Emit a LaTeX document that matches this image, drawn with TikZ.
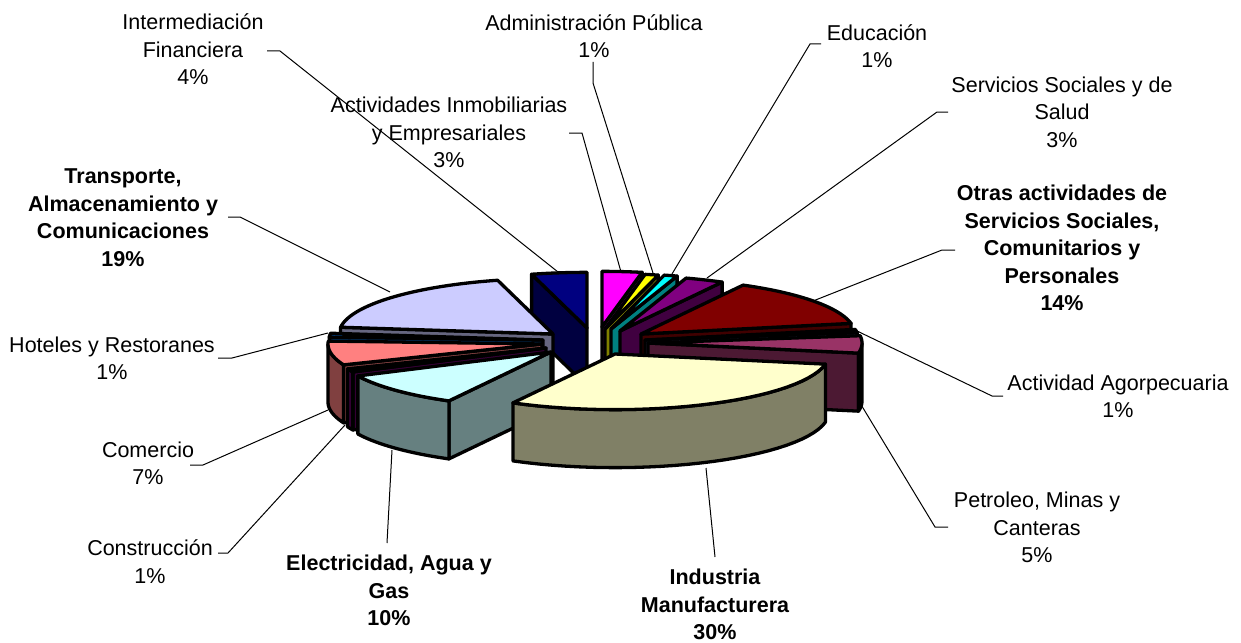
\documentclass[tikz,border=0pt]{standalone}
\usepackage{fontspec}
\setmainfont{Liberation Sans}
\definecolor{cAgro}{HTML}{9999FF}
\definecolor{cPetr}{HTML}{993366}
\definecolor{cIndu}{HTML}{FFFFCC}
\definecolor{cElec}{HTML}{CCFFFF}
\definecolor{cCons}{HTML}{660066}
\definecolor{cCome}{HTML}{FF8080}
\definecolor{cHote}{HTML}{0066CC}
\definecolor{cTran}{HTML}{CCCCFF}
\definecolor{cInte}{HTML}{000080}
\definecolor{cInmo}{HTML}{FF00FF}
\definecolor{cAdmi}{HTML}{FFFF00}
\definecolor{cEduc}{HTML}{00FFFF}
\definecolor{cServ}{HTML}{800080}
\definecolor{cOtra}{HTML}{800000}
\def\pieR{214}
\def\pieK{0.26}
\def\pieH{58}
% #1 apex x, #2 apex y, #3 start angle, #4 end angle, #5 colour
\newcommand{\pieslice}[5]{%
  \pgfmathsetmacro{\psca}{cos(#3)}%
  \pgfmathsetmacro{\pscb}{cos(#4)}%
  \pgfmathsetmacro{\pss}{max(#3,0)}%
  \pgfmathsetmacro{\pse}{min(#4,180)}%
  \ifdim\psca pt<-0.01pt
    \filldraw[pieedge, fill=#5!50!black] (#1,#2) -- ({#1+\pieR*cos(#3)},{#2+\pieR*\pieK*sin(#3)}) -- ++(0,\pieH) -- (#1,#2+\pieH) -- cycle;
  \fi
  \ifdim\pscb pt>0.01pt
    \filldraw[pieedge, fill=#5!50!black] (#1,#2) -- ({#1+\pieR*cos(#4)},{#2+\pieR*\pieK*sin(#4)}) -- ++(0,\pieH) -- (#1,#2+\pieH) -- cycle;
  \fi
  \ifdim\pss pt<\pse pt
    \filldraw[pieedge, fill=#5!50!black] plot[domain=\pss:\pse, samples=30] ({#1+\pieR*cos(\x)},{#2+\pieR*\pieK*sin(\x)}) -- plot[domain=\pse:\pss, samples=30] ({#1+\pieR*cos(\x)},{#2+\pieH+\pieR*\pieK*sin(\x)}) -- cycle;
  \fi
  \filldraw[pieedge, fill=#5] (#1,#2) -- plot[domain=#3:#4, samples=30] ({#1+\pieR*cos(\x)},{#2+\pieR*\pieK*sin(\x)}) -- cycle;
}
\tikzset{
  lab/.style={font=\fontsize{21.5}{27.5}\selectfont, align=center, inner sep=0pt, text=black},
  blab/.style={lab, font=\fontsize{21.5}{27.5}\selectfont\bfseries},
  leader/.style={draw=black, line width=1pt},
  pieedge/.style={draw=black, line width=3.3pt, line join=round},
}
\begin{document}
\begin{tikzpicture}[x=1pt,y=-1pt]
\useasboundingbox[fill=white] (0,0) rectangle (1241,642);
% slices, back to front
\pieslice{602}{327}{270}{280.8}{cInmo}
\pieslice{587}{328}{255}{270}{cInte}
\pieslice{605}{329}{280.8}{284.4}{cAdmi}
\pieslice{611}{329}{284.4}{288}{cEduc}
\pieslice{620}{331}{288}{298.5}{cServ}
\pieslice{553}{334}{187}{255}{cTran}
\pieslice{641}{334}{298.5}{349}{cOtra}
\pieslice{645}{340}{-11}{-7.5}{cAgro}
\pieslice{543}{340}{183}{187}{cHote}
\pieslice{648}{343}{-7.5}{10.5}{cPetr}
\pieslice{542}{344}{158}{183}{cCome}
\pieslice{546}{348}{154.5}{158}{cCons}
\pieslice{551}{352}{118.5}{154.5}{cElec}
\pieslice{615}{354}{10.5}{118.5}{cIndu}
% labels
\node[lab] (lInte) at (193,49.5) {Intermediación\\Financiera\\4\%};
\node[lab] (lAdmi) at (594,36) {Administración Pública\\1\%};
\node[lab] (lEduc) at (877,46) {Educación\\1\%};
\node[lab] (lServ) at (1062,112) {Servicios Sociales y de\\Salud\\3\%};
\node[lab] (lInmo) at (449,132.5) {Actividades Inmobiliarias\\y Empresariales\\3\%};
\node[blab] (lTran) at (123,217.5) {Transporte,\\Almacenamiento y\\Comunicaciones\\19\%};
\node[blab] (lOtra) at (1062,248) {Otras actividades de\\Servicios Sociales,\\Comunitarios y\\Personales\\14\%};
\node[lab] (lHote) at (112,358.5) {Hoteles y Restoranes\\1\%};
\node[lab] (lAgro) at (1118,396.5) {Actividad Agorpecuaria\\1\%};
\node[lab] (lCome) at (148,463.5) {Comercio\\7\%};
\node[lab] (lPetr) at (1037,527.5) {Petroleo, Minas y\\Canteras\\5\%};
\node[lab] (lCons) at (150,561.5) {Construcción\\1\%};
\node[blab] (lElec) at (389,590.5) {Electricidad, Agua y\\Gas\\10\%};
\node[blab] (lIndu) at (715,604.5) {Industria\\Manufacturera\\30\%};
% leader line ends
\coordinate (sInte) at (267,51);   \coordinate (tInte) at (558,272);
\coordinate (sInmo) at (569,133);  \coordinate (tInmo) at (621,272);
\coordinate (sAdmi) at (593,62);   \coordinate (tAdmi) at (653,273);
\coordinate (sEduc) at (821,44);   \coordinate (tEduc) at (672,274);
\coordinate (sServ) at (948,112);  \coordinate (tServ) at (707,278);
\coordinate (sTran) at (228,217);  \coordinate (tTran) at (390,292);
\coordinate (sOtra) at (955,250);  \coordinate (tOtra) at (813,301);
\coordinate (sHote) at (218,358);  \coordinate (tHote) at (328,333);
\coordinate (sAgro) at (1003,396); \coordinate (tAgro) at (855,330);
\coordinate (sCome) at (190,465);  \coordinate (tCome) at (328,410);
\coordinate (sPetr) at (948,527);  \coordinate (tPetr) at (860,403);
\coordinate (sCons) at (218,553);  \coordinate (tCons) at (345,425);
\coordinate (sElec) at (387,543);  \coordinate (tElec) at (392,450);
\coordinate (sIndu) at (715,557);  \coordinate (tIndu) at (706,468);
% leader lines
\draw[leader] (sInte) -- ++(13,0) -- (tInte);
\draw[leader] (sInmo) -- ++(13,0) -- (tInmo);
\draw[leader] (sAdmi) -- ++(0,21) -- (tAdmi);
\draw[leader] (sEduc) -- ++(-11,0) -- (tEduc);
\draw[leader] (sServ) -- ++(-11,0) -- (tServ);
\draw[leader] (sTran) -- ++(12,0) -- (tTran);
\draw[leader] (sOtra) -- ++(-13,0) -- (tOtra);
\draw[leader] (sHote) -- ++(14,0) -- (tHote);
\draw[leader] (sAgro) -- ++(-11,0) -- (tAgro);
\draw[leader] (sCome) -- ++(13,0) -- (tCome);
\draw[leader] (sPetr) -- ++(-13,0) -- (tPetr);
\draw[leader] (sCons) -- ++(10,0) -- (tCons);
\draw[leader] (sElec) -- (tElec);
\draw[leader] (sIndu) -- (tIndu);
\end{tikzpicture}
\end{document}
